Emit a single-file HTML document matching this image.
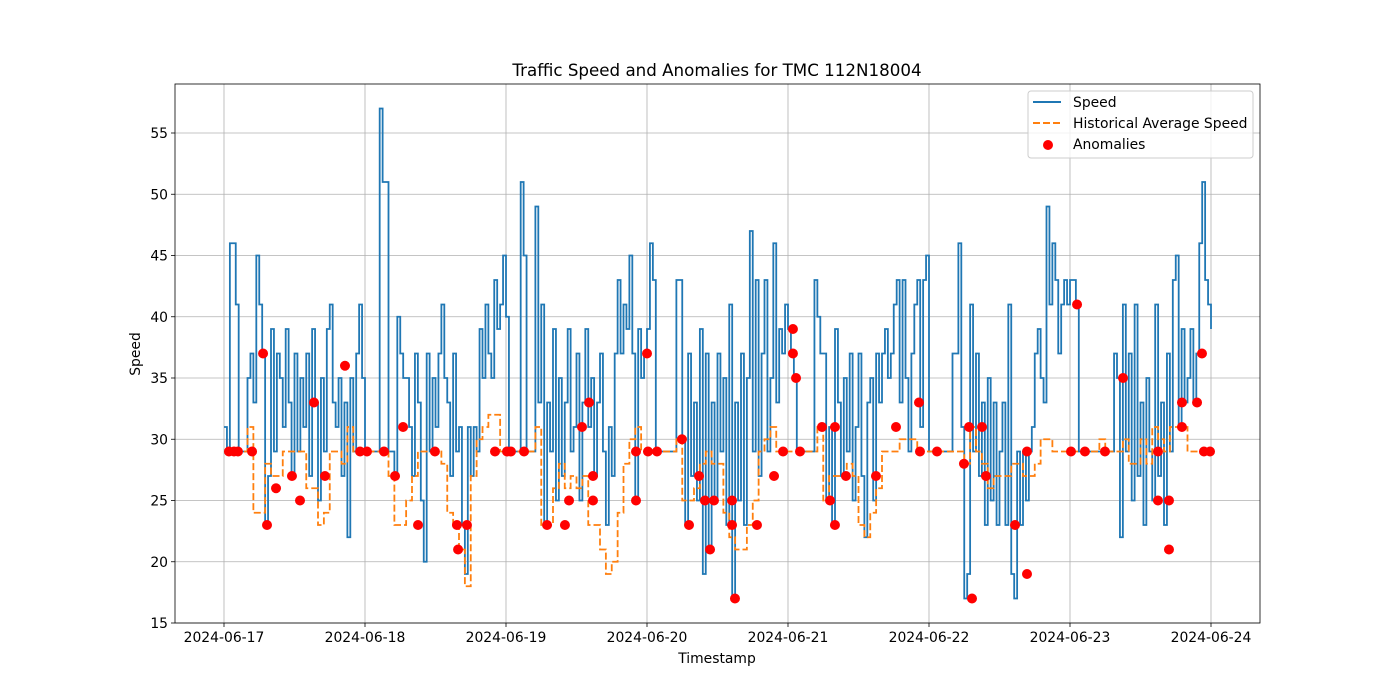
<!DOCTYPE html>
<html><head><meta charset="utf-8"><style>
html,body{margin:0;padding:0;background:#fff;}
svg{display:block;font-family:"DejaVu Sans","Liberation Sans",sans-serif;}
</style></head><body>
<svg id="chart" width="1400" height="700" viewBox="0 0 1400 700" xmlns="http://www.w3.org/2000/svg">
<rect width="1400" height="700" fill="#fff"/>
<text x="717" y="76" font-size="16.7" text-anchor="middle" fill="#000">Traffic Speed and Anomalies for TMC 112N18004</text>
<g id="grid"></g><g id="plot"></g><g id="axes"></g>
<text x="717" y="663" font-size="13.9" text-anchor="middle">Timestamp</text>
<text transform="translate(140,354) rotate(-90)" font-size="13.9" text-anchor="middle">Speed</text>
<g>
<rect x="1028" y="91" width="225" height="67" rx="3" fill="#fff" fill-opacity="0.8" stroke="#ccc"/>
<line x1="1033" y1="102" x2="1061" y2="102" stroke="#1f77b4" stroke-width="2"/>
<text x="1073" y="107" font-size="13.9">Speed</text>
<line x1="1033" y1="123" x2="1061" y2="123" stroke="#ff7f0e" stroke-width="2" stroke-dasharray="7,3"/>
<text x="1073" y="128" font-size="13.9">Historical Average Speed</text>
<circle cx="1048" cy="145" r="5" fill="red"/>
<text x="1073" y="149" font-size="13.9">Anomalies</text>
</g>
</svg>
<script>
const xTickLabels=["2024-06-17","2024-06-18","2024-06-19","2024-06-20","2024-06-21","2024-06-22","2024-06-23","2024-06-24"];
const yTicks=[15,20,25,30,35,40,45,50,55];
// speed, every half hour
const speed=[
31,29,46,46,41,29,29,29,35,37,33,45,41,37,23,27,39,29,37,35,31,39,33,27,37,29,35,31,37,27,39,33,25,35,29,39,41,33,31,35,27,33,22,35,29,37,41,35,
29,29,29,29,29,57,51,51,29,29,27,40,37,35,35,31,27,37,33,25,20,37,29,35,31,37,41,35,33,27,37,29,31,23,19,31,27,31,29,39,35,41,37,35,43,39,41,45,
40,29,29,29,29,51,45,29,29,29,49,33,41,23,33,29,39,25,35,27,33,39,29,31,37,25,33,39,31,35,27,33,37,29,23,31,27,37,43,37,41,39,45,37,25,39,35,37,
39,46,43,29,29,29,29,29,29,29,43,43,30,23,37,27,33,25,39,19,37,21,33,25,37,29,35,23,41,17,33,25,37,23,35,47,29,43,27,37,43,29,35,46,33,39,37,41,
39,37,35,29,29,29,29,29,29,43,40,37,37,25,31,23,39,33,27,35,29,37,25,31,37,27,22,33,35,25,37,33,37,39,35,37,41,43,33,43,35,29,37,41,43,31,43,45,
29,29,29,29,29,29,29,29,37,37,46,31,17,19,41,29,37,27,33,23,35,25,33,23,29,33,23,41,19,17,29,23,29,25,29,31,37,39,35,33,49,41,46,43,37,41,43,41,
43,43,41,29,29,29,29,29,29,29,29,29,29,29,29,37,35,22,41,29,37,25,41,27,33,23,35,29,25,41,27,33,23,37,29,43,45,31,39,33,35,39,33,37,46,51,43,41,39];
// historical average, hourly
const histAvg=[
29,29,29,29,31,24,24,28,27,27,29,29,29,29,26,26,23,24,29,29,28,31,29,29,
29,29,29,29,27,23,23,25,27,29,29,29,29,28,24,23,21,18,27,30,31,32,32,29,
29,29,29,29,29,31,23,23,26,28,26,27,26,27,23,23,21,19,20,24,28,30,31,29,
29,29,29,29,29,30,25,25,26,28,29,28,28,24,22,21,21,23,25,29,30,31,29,29,
29,29,29,29,29,31,25,27,27,27,28,27,23,22,24,26,29,29,29,30,30,30,29,29,
29,29,29,29,29,29,28,31,29,28,26,27,27,27,28,28,27,27,28,30,30,29,29,29,
29,29,29,29,29,30,29,29,29,30,28,28,30,28,31,30,29,31,31,31,29,29,29,29,29];
// anomalies: time in days, speed
const anomDays=[0.035,0.071,0.099,0.199,0.277,0.305,0.369,0.482,0.539,0.638,0.716,0.858,0.965,1.014,1.135,1.213,1.270,1.376,1.496,1.652,1.660,1.723,1.922,2.007,2.035,2.128,2.291,2.418,2.447,2.539,2.589,2.617,2.617,2.922,2.922,3.0,3.007,3.071,3.248,3.298,3.369,3.411,3.447,3.475,3.603,3.603,3.624,3.780,3.901,3.965,4.035,4.035,4.057,4.085,4.241,4.298,4.333,4.333,4.411,4.624,4.766,4.936,4.929,5.057,5.248,5.284,5.305,5.376,5.404,5.610,5.695,5.695,6.007,6.050,6.106,6.248,6.376,6.624,6.624,6.702,6.702,6.794,6.794,6.901,6.936,6.950,6.993];
const anomSpeed=[29,29,29,29,37,23,26,27,25,33,27,36,29,29,29,27,31,23,29,23,21,23,29,29,29,29,23,23,25,31,33,27,25,25,29,37,29,29,30,23,27,25,21,25,23,25,17,23,27,29,39,37,35,29,31,25,23,31,27,27,31,29,33,29,28,31,17,31,27,23,19,29,29,41,29,29,35,29,25,21,25,33,31,33,37,29,29];

const NS="http://www.w3.org/2000/svg";
const L=175,R=1260,T=84,B=623;
const xS=d=>224+d*141;
const yS=v=>B-(v-15)*(B-T)/44;
function mk(tag,attrs,parent){const e=document.createElementNS(NS,tag);for(const k in attrs)e.setAttribute(k,attrs[k]);parent.appendChild(e);return e;}
const grid=document.getElementById('grid'),plot=document.getElementById('plot'),axes=document.getElementById('axes');
xTickLabels.forEach((lab,i)=>{
  const x=xS(i);
  const gl=mk('line',{x1:x,x2:x,y1:T,y2:B,stroke:'#b0b0b0','stroke-width':0.8},grid);
  
  
  mk('line',{x1:x,x2:x,y1:B,y2:B+4,stroke:'#000','stroke-width':0.8},axes);
  const t=mk('text',{x:x,y:B+19,'font-size':13.9,'text-anchor':'middle'},axes);
  t.textContent=lab;
  
  
});
yTicks.forEach(v=>{
  const y=yS(v);
  const gl=mk('line',{x1:L,x2:R,y1:y,y2:y,stroke:'#b0b0b0','stroke-width':0.8},grid);
  
  
  mk('line',{x1:L-4,x2:L,y1:y,y2:y,stroke:'#000','stroke-width':0.8},axes);
  const t=mk('text',{x:L-7,y:y+5,'font-size':13.9,'text-anchor':'end'},axes);
  t.textContent=v;
  
  
});
const frame=mk('rect',{x:L,y:T,width:R-L,height:B-T,fill:'none',stroke:'#000','stroke-width':0.8},axes);


function stepPath(vals,stepDays){
  let d='';
  vals.forEach((v,i)=>{
    const x=xS(i*stepDays),y=yS(v);
    if(i===0)d+='M'+x+','+y;else d+='H'+x+'V'+y;
  });
  return d;
}
const sp=mk('path',{d:stepPath(speed,1/48),fill:'none',stroke:'#1f77b4','stroke-width':1.8,'stroke-linejoin':'miter'},plot);


const hp=mk('path',{d:stepPath(histAvg,1/24),fill:'none',stroke:'#ff7f0e','stroke-width':1.8,'stroke-dasharray':'7,3'},plot);


anomDays.forEach((d,i)=>{
  const c=mk('circle',{cx:xS(d),cy:yS(anomSpeed[i]),r:5,fill:'red'},plot);
  
  
});
</script>
</body></html>
